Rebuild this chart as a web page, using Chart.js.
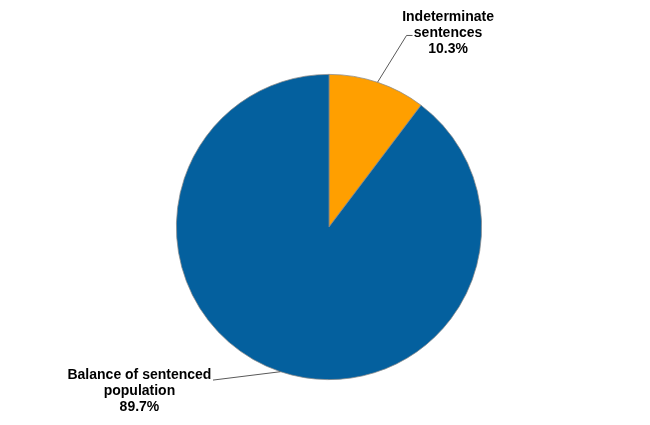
<!DOCTYPE html>
<html>
<head>
<meta charset="utf-8">
<script src="https://cdn.jsdelivr.net/npm/chart.js@4/dist/chart.umd.min.js"></script>
<style>
html,body{margin:0;padding:0;background:#fff;}
#wrap{width:650px;height:425px;}
</style>
</head>
<body>
<div id="wrap"><canvas id="c" width="650" height="425"></canvas></div>
<script>
const categories = ["Indeterminate sentences", "Balance of sentenced population"];
const values = [10.3, 89.7];
const labelLines = [["Indeterminate", "sentences", "10.3%"], ["Balance of sentenced", "population", "89.7%"]];
const colors = ["#FF9F00", "#04609E"];

const labelPlugin = {
  id: 'pieLabels',
  afterDraw(chart) {
    const ctx = chart.ctx;
    const meta = chart.getDatasetMeta(0);
    ctx.save();
    ctx.font = 'bold 14px "Liberation Sans", Arial, sans-serif';
    ctx.fillStyle = '#000';
    ctx.strokeStyle = '#595959';
    ctx.lineWidth = 1;
    ctx.textBaseline = 'middle';
    ctx.textAlign = 'center';
    meta.data.forEach((arc, i) => {
      const p = arc.getProps(['x','y','startAngle','endAngle','outerRadius'], true);
      const mid = (p.startAngle + p.endAngle) / 2;
      const sx = p.x + Math.cos(mid) * p.outerRadius;
      const sy = p.y + Math.sin(mid) * p.outerRadius;
      const R = p.outerRadius;
      let ex, ey, hx, tx, ty;
      if (i === 0) {
        ex = p.x + R * 0.508; ey = p.y - R * 1.255;
        hx = ex + 6;
        tx = p.x + R * 0.78; ty = p.y - R * 1.372;
      } else {
        ex = p.x - R * 0.76; ey = p.y + R * 1.003;
        hx = ex;
        tx = p.x - R * 1.242; ty = p.y + R * 0.97;
      }
      ctx.beginPath();
      ctx.moveTo(sx, sy);
      ctx.lineTo(ex, ey);
      ctx.lineTo(hx, ey);
      ctx.stroke();
      labelLines[i].forEach((t, k) => {
        ctx.fillText(t, tx, ty + k * 16);
      });
    });
    ctx.restore();
  }
};

new Chart(document.getElementById('c'), {
  type: 'pie',
  data: {
    labels: categories,
    datasets: [{
      data: values,
      backgroundColor: colors,
      borderColor: '#8a8a8a',
      borderWidth: 0.75
    }]
  },
  options: {
    responsive: false,
    animation: false,
    layout: { padding: { top: 74, bottom: 45, left: 176, right: 168 } },
    plugins: { legend: { display: false }, tooltip: { enabled: false } }
  },
  plugins: [labelPlugin]
});
</script>
</body>
</html>
